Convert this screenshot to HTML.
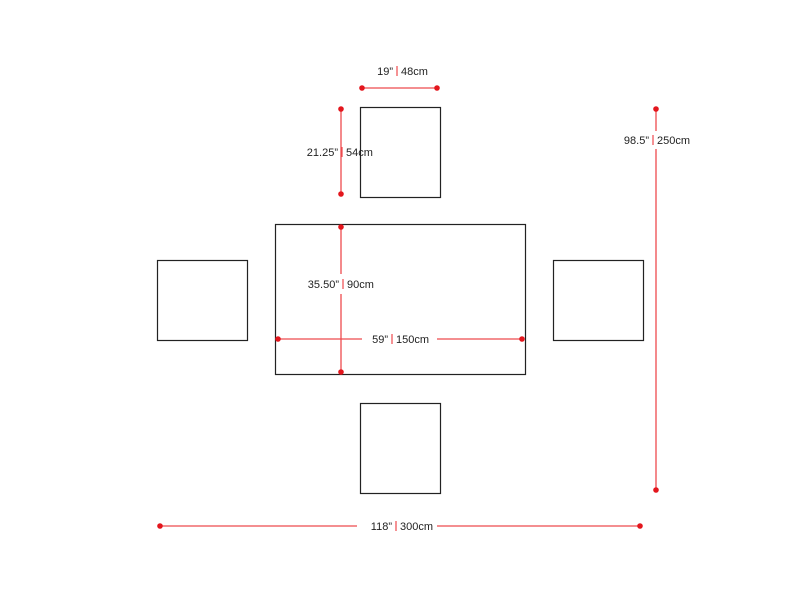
<!DOCTYPE html>
<html><head><style>body{margin:0;background:#fff}svg{display:block}text{font-family:"Liberation Sans",sans-serif;font-size:11px;fill:#222}</style></head><body>
<svg width="800" height="600" xmlns="http://www.w3.org/2000/svg">
<g fill="none" stroke="#222" stroke-width="1.2">
<rect x="275.5" y="224.5" width="250" height="150"/>
<rect x="360.5" y="107.5" width="80" height="90"/>
<rect x="360.5" y="403.5" width="80" height="90"/>
<rect x="157.5" y="260.5" width="90" height="80"/>
<rect x="553.5" y="260.5" width="90" height="80"/>
</g>
<g stroke="#ee4a4e" stroke-width="1.3">
<line x1="362" y1="88" x2="437" y2="88"/>
<line x1="341" y1="109" x2="341" y2="194"/>
<line x1="341" y1="227" x2="341" y2="274"/>
<line x1="341" y1="294" x2="341" y2="372"/>
<line x1="278" y1="339" x2="362" y2="339"/>
<line x1="437" y1="339" x2="522" y2="339"/>
<line x1="656" y1="109" x2="656" y2="131"/>
<line x1="656" y1="149" x2="656" y2="490"/>
<line x1="160" y1="526" x2="357" y2="526"/>
<line x1="437" y1="526" x2="640" y2="526"/>
</g>
<g fill="#e3161d">
<circle cx="362" cy="88" r="2.8"/><circle cx="437" cy="88" r="2.8"/>
<circle cx="341" cy="109" r="2.8"/><circle cx="341" cy="194" r="2.8"/>
<circle cx="341" cy="227" r="2.8"/><circle cx="341" cy="372" r="2.8"/>
<circle cx="278" cy="339" r="2.8"/><circle cx="522" cy="339" r="2.8"/>
<circle cx="656" cy="109" r="2.8"/><circle cx="656" cy="490" r="2.8"/>
<circle cx="160" cy="526" r="2.8"/><circle cx="640" cy="526" r="2.8"/>
</g>
<g stroke="#ee4a4e" stroke-width="1.2">
<line x1="397" y1="66" x2="397" y2="76"/>
<line x1="342" y1="147" x2="342" y2="157"/>
<line x1="343" y1="279" x2="343" y2="289"/>
<line x1="392" y1="334" x2="392" y2="344"/>
<line x1="653" y1="135" x2="653" y2="145"/>
<line x1="396" y1="521" x2="396" y2="531"/>
</g>
<text x="393" y="75" text-anchor="end">19”</text><text x="401" y="75">48cm</text>
<text x="338" y="156" text-anchor="end">21.25”</text><text x="346" y="156">54cm</text>
<text x="339" y="288" text-anchor="end">35.50”</text><text x="347" y="288">90cm</text>
<text x="388" y="343" text-anchor="end">59”</text><text x="396" y="343">150cm</text>
<text x="649" y="144" text-anchor="end">98.5”</text><text x="657" y="144">250cm</text>
<text x="392" y="530" text-anchor="end">118”</text><text x="400" y="530">300cm</text>
</svg>
</body></html>
